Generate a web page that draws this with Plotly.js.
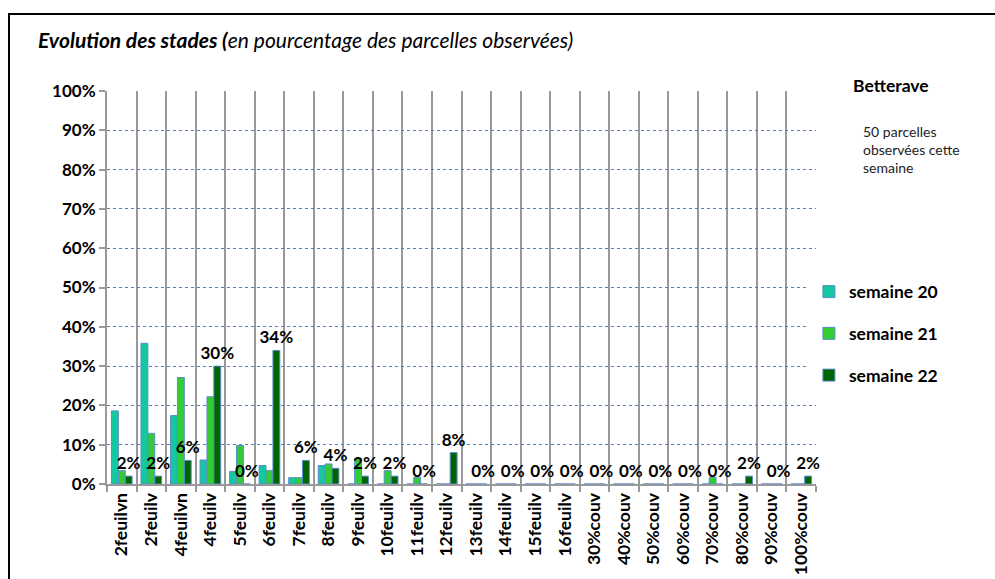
<!DOCTYPE html>
<html>
<head>
<meta charset="utf-8">
<script src="https://cdn.plot.ly/plotly-3.0.1.min.js"></script>
<style>
  html, body { margin: 0; padding: 0; background: #fff; }
  #chart { width: 995px; height: 579px; position: relative; }
  #frame { position: absolute; left: 8px; top: 13px; width: 1000px; height: 600px;
           border-left: 2px solid #000; border-top: 2px solid #000; pointer-events: none; }
</style>
</head>
<body>
<div id="chart"></div>
<div id="frame"></div>
<script>
const categories = ["2feuilvn","2feuilv","4feuilvn","4feuilv","5feuilv","6feuilv","7feuilv","8feuilv","9feuilv","10feuilv","11feuilv","12feuilv","13feuilv","14feuilv","15feuilv","16feuilv","30%couv","40%couv","50%couv","60%couv","70%couv","80%couv","90%couv","100%couv"];
const semaine20 = [18.6, 35.8, 17.4, 6.1, 3.2, 4.7, 1.6, 4.7, 0, 0, 0, 0, 0, 0, 0, 0, 0, 0, 0, 0, 0, 0, 0, 0];
const semaine21 = [3.4, 12.9, 27.1, 22.2, 9.8, 3.4, 1.6, 5.1, 6.5, 3.4, 1.7, 0, 0, 0, 0, 0, 0, 0, 0, 0, 1.7, 0, 0, 0];
const semaine22 = [2, 2, 6, 30, 0, 34, 6, 4, 2, 2, 0, 8, 0, 0, 0, 0, 0, 0, 0, 0, 0, 2, 0, 2];
const seriesNames = ["semaine 20", "semaine 21", "semaine 22"];
const seriesColors = ["#14C8A0", "#33CC33", "#006400"];

const FONT = "Lato, 'Open Sans', sans-serif";
const outline = { color: "#5B8BD0", width: 1 };

const traces = [
  { type: "bar", x: categories, y: semaine20, name: seriesNames[0], legendgroup: "a",
    marker: { color: seriesColors[0], line: outline }, hoverinfo: "x+y" },
  { type: "bar", x: categories, y: semaine21, name: seriesNames[1], legendgroup: "b",
    marker: { color: seriesColors[1], line: outline }, hoverinfo: "x+y" },
  { type: "bar", x: categories, y: semaine22, name: seriesNames[2], legendgroup: "c",
    marker: { color: seriesColors[2], line: outline },
    text: semaine22.map(v => v + "%"), textposition: "outside", cliponaxis: false,
    constraintext: "none",
    textfont: { family: FONT, size: 17, color: "#000", weight: "bold" }, hoverinfo: "x+y" }
];

const layout = {
  width: 995, height: 579,
  margin: { l: 107, r: 179, t: 91, b: 95 },
  paper_bgcolor: "#fff", plot_bgcolor: "#fff",
  barmode: "group", bargap: 0.3, bargroupgap: 0,
  font: { family: FONT, color: "#000" },
  showlegend: true,
  legend: {
    x: 0.99, xanchor: "left", y: 0.535, yanchor: "top",
    font: { family: FONT, size: 17.5, color: "#000", weight: "bold" },
    tracegroupgap: 16, itemwidth: 30, traceorder: "grouped"
  },
  xaxis: {
    type: "category", tickson: "boundaries",
    showgrid: true, gridcolor: "#999999", gridwidth: 2,
    showline: true, linecolor: "#999999", linewidth: 2,
    ticks: "outside", ticklen: 6, tickcolor: "#999999", tickwidth: 2,
    tickangle: -90,
    tickfont: { family: FONT, size: 17.5, color: "#000", weight: "bold" },
    range: [-0.5, categories.length - 0.5]
  },
  yaxis: {
    range: [0, 100], dtick: 10, ticksuffix: "%",
    showgrid: true, gridcolor: "#4F81BD", gridwidth: 1, griddash: "dot",
    showline: true, linecolor: "#999999", linewidth: 2,
    ticks: "outside", ticklen: 6, tickcolor: "#999999", tickwidth: 2,
    tickfont: { family: FONT, size: 17, color: "#000", weight: "bold" },
    zeroline: false
  },
  annotations: [
    { xref: "paper", yref: "paper", x: -0.1, y: 1.13, xanchor: "left", yanchor: "middle",
      text: "<b><i>Evolution des stades (</i></b><i>en pourcentage des parcelles observées)</i>",
      showarrow: false, font: { family: FONT, size: 21, color: "#000" } },
    { xref: "paper", yref: "paper", x: 1.05, y: 1.015, xanchor: "left", yanchor: "middle",
      text: "<b>Betterave</b>", showarrow: false, font: { family: FONT, size: 17.5, color: "#000" } },
    { xref: "paper", yref: "paper", x: 1.063, y: 0.85, xanchor: "left", yanchor: "middle", align: "left",
      text: "50 parcelles<br>observées cette<br>semaine", showarrow: false,
      font: { family: FONT, size: 14, color: "#222" } }
  ]
};

Plotly.newPlot("chart", traces, layout, { displayModeBar: false, staticPlot: true });
</script>
</body>
</html>
